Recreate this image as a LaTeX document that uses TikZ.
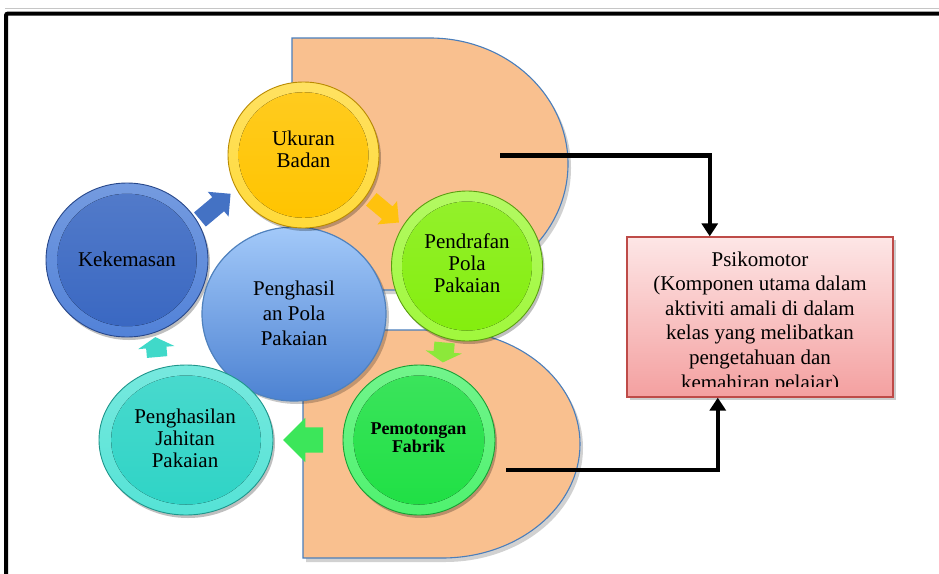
\documentclass[tikz,border=0pt]{standalone}
\usepackage{fontspec}
\setmainfont{Liberation Serif}
\usetikzlibrary{shapes.geometric,shapes.arrows,arrows.meta,calc}
\definecolor{peach}{HTML}{F9C08F}
\definecolor{dedge}{HTML}{4A7EBB}
\definecolor{ukRim}{HTML}{FFDA3A}
\definecolor{ukMain}{HTML}{FFC400}
\definecolor{ukEdge}{HTML}{B98A00}
\definecolor{pdRim}{HTML}{A0F83C}
\definecolor{pdMain}{HTML}{84EE0E}
\definecolor{pdEdge}{HTML}{5A9E10}
\definecolor{pmRim}{HTML}{4FF26F}
\definecolor{pmMain}{HTML}{20E045}
\definecolor{pmEdge}{HTML}{17A034}
\definecolor{jhRim}{HTML}{55E3D6}
\definecolor{jhMain}{HTML}{2FD4C6}
\definecolor{jhEdge}{HTML}{1E958B}
\definecolor{kkRim}{HTML}{5282D8}
\definecolor{kkMain}{HTML}{3A68C2}
\definecolor{kkEdge}{HTML}{27478A}
\definecolor{cTop}{HTML}{A3C9F9}
\definecolor{cBot}{HTML}{4C82D2}
\definecolor{cEdge}{HTML}{4F81BD}
\definecolor{bxTop}{HTML}{FDE6E6}
\definecolor{bxBot}{HTML}{F4A0A0}
\definecolor{bxEdge}{HTML}{BE4B48}
\definecolor{arBlue}{HTML}{4472C4}
\definecolor{arGold}{HTML}{FFC20E}
\definecolor{arLime}{HTML}{8CE83A}
\definecolor{arGreen}{HTML}{3CE65A}
\definecolor{arTeal}{HTML}{40D9C9}
\tikzset{
  dshape/.style={fill=peach, draw=dedge, line width=1.1pt},
  dshadow/.style={fill=black, opacity=0.18},
  conn/.style={line width=4.5pt, -{Triangle[width=16pt,length=13pt]}},
  connshadow/.style={line width=4.5pt, draw=black, opacity=0.25},
  txt/.style={align=center, inner sep=0pt, font=\fontsize{21}{22}\selectfont},
  blk/.style={single arrow, draw=none, inner xsep=0pt, anchor=center},
}
\newcommand\mybubble[8]{%
  \fill[black,opacity=0.25] (#2+2,#3+3) ellipse [x radius={#4pt}, y radius={#5pt}];
  \node[ellipse, inner sep=0pt, minimum width={2*#4pt}, minimum height={2*#5pt},
        draw=#8, line width=0.9pt, top color=#6!80!white, bottom color=#6] (#1) at (#2,#3) {};
  \fill[top color=#7!88!white, bottom color=#7] (#1.center) ellipse [x radius={0.86*#4pt}, y radius={0.86*#5pt}];
}
\begin{document}
\begin{tikzpicture}[x=1pt,y=-1pt]
\useasboundingbox (0,0) rectangle (939,573);
% frame
\draw[gray!45, line width=0.8pt] (5,8.5) -- (945,8.5);
\draw[line width=4pt, rounded corners=2pt] (6,13.5) rectangle (965,610);
% D shapes
\fill[dshadow, shift={(3,4)}] (292,38) -- (430,38) arc[start angle=90, end angle=-90, x radius=138pt, y radius=126pt] -- (292,290) -- cycle;
\fill[dshadow, shift={(3,4)}] (303,330) -- (442,330) arc[start angle=90, end angle=-90, x radius=138pt, y radius=114pt] -- (303,558) -- cycle;
\path[dshape] (292,38) -- (430,38) arc[start angle=90, end angle=-90, x radius=138pt, y radius=126pt] -- (292,290) -- cycle;
\path[dshape] (303,330) -- (442,330) arc[start angle=90, end angle=-90, x radius=138pt, y radius=114pt] -- (303,558) -- cycle;
% result box
\fill[black, opacity=0.2] (630,240) rectangle (896,400);
\node[rectangle, minimum width=266pt, minimum height=160pt, inner sep=0pt, top color=bxTop, bottom color=bxBot, draw=bxEdge, line width=1.3pt] (psy) at (760,317) {};
\begin{scope}
  \clip (627,237) rectangle (893,386.5);
  \node[txt, font=\fontsize{21}{24.6}\selectfont] (psyT) at (760,322.6) {Psikomotor\\(Komponen utama dalam\\aktiviti amali di dalam\\kelas yang melibatkan\\pengetahuan dan\\kemahiran pelajar)};
\end{scope}
% connectors
\coordinate (c1) at (500,155.5);
\coordinate (c2) at (506,470);
\coordinate (p1) at ($(psy.north west)!0.312!(psy.north east)$);
\coordinate (p2) at ($(psy.south west)!0.342!(psy.south east)$);
\draw[connshadow, shift={(2,3)}] (c1) -| ($(p1)+(0,-16)$);
\draw[connshadow, shift={(2,3)}] (c2) -| ($(p2)+(0,16)$);
\draw[conn] (c1) -| (p1);
\draw[conn] (c2) -| (p2);
% centre circle
\fill[black,opacity=0.22] (297,317) ellipse [x radius=92pt, y radius=87pt];
\node[ellipse, inner sep=0pt, minimum width=184pt, minimum height=174pt, top color=cTop, bottom color=cBot, draw=cEdge, line width=1.2pt] (ctr) at (294,314) {};
% bubbles
\mybubble{kk}{127}{260}{81}{77}{kkRim}{kkMain}{kkEdge}
\mybubble{uk}{303.5}{155}{75.5}{73}{ukRim}{ukMain}{ukEdge}
\mybubble{pd}{467}{266}{75.5}{75}{pdRim}{pdMain}{pdEdge}
\mybubble{pm}{419}{440}{76}{75}{pmRim}{pmMain}{pmEdge}
\mybubble{jh}{186}{440}{87}{75}{jhRim}{jhMain}{jhEdge}
% cycle arrows
\node[blk, fill=arBlue, minimum height=40pt, inner ysep=9pt, single arrow head extend=7pt, rotate=40] (a1) at ($(kk)!0.48!(uk)$) {};
\node[blk, fill=arGold, minimum height=36pt, inner ysep=8pt, single arrow head extend=7pt, rotate=-40] (a2) at ($(uk)!0.48!(pd)$) {};
\node[blk, fill=arLime, minimum height=20pt, inner ysep=10pt, single arrow head extend=8pt, single arrow tip angle=120, rotate=-95] (a3) at ($(pd)!0.48!(pm)$) {};
\node[blk, fill=arGreen, minimum height=40pt, inner ysep=12.5pt, single arrow head extend=9.5pt, rotate=180] (a4) at ($(pm)!0.47!(jh)$) {};
\node[blk, fill=arTeal, minimum height=20pt, inner ysep=10pt, single arrow head extend=8pt, single arrow tip angle=120, rotate=95] (a5) at ($(jh)!0.5!(kk)$) {};
% labels
\node[txt] (ukT) at (303.5,149) {Ukuran\\Badan};
\node[txt] (pdT) at (467,263) {Pendrafan\\Pola\\Pakaian};
\node[txt, font=\bfseries\fontsize{18}{18}\selectfont] (pmT) at (418.5,438) {Pemotongan\\Fabrik};
\node[txt] (jhT) at (185,438) {Penghasilan\\Jahitan\\Pakaian};
\node[txt] (kkT) at (127,259) {Kekemasan};
\node[txt, font=\fontsize{21}{25}\selectfont] (cT) at (294,313) {Penghasil\\an Pola\\Pakaian};
\end{tikzpicture}
\end{document}
